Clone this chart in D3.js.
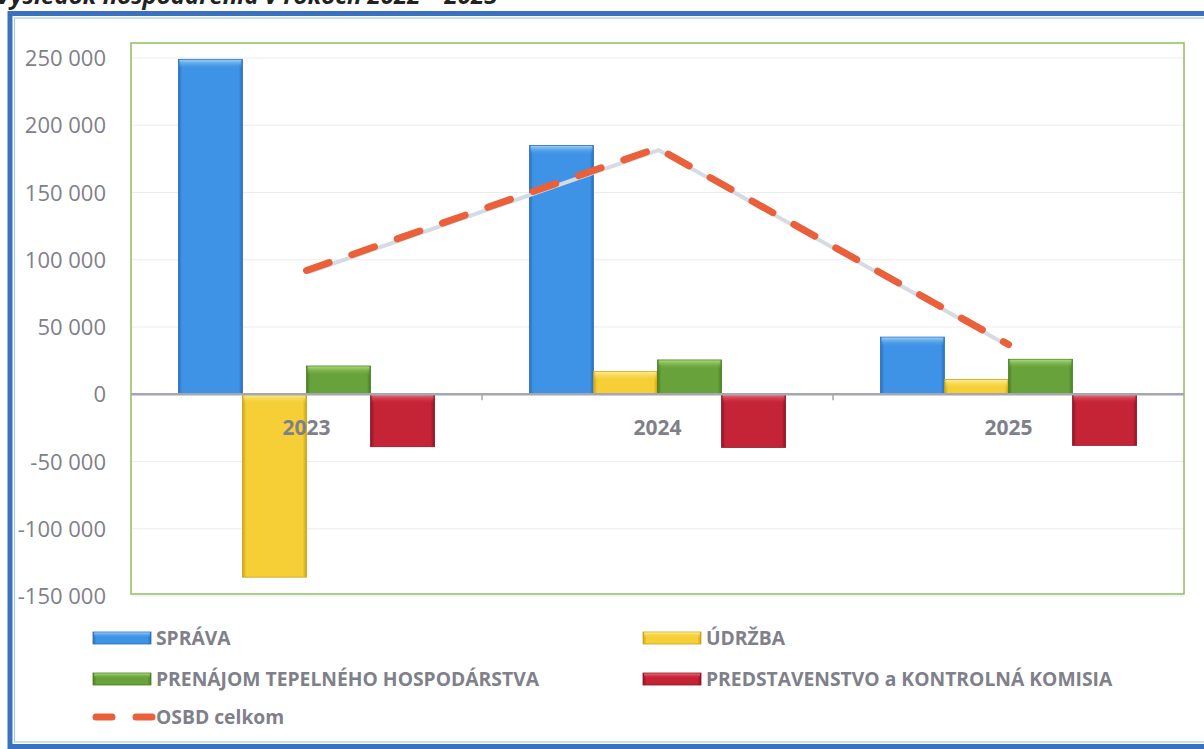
<!DOCTYPE html>
<html><head><meta charset="utf-8">
<script src="https://cdn.jsdelivr.net/npm/d3@7"></script>
<style>html,body{margin:0;padding:0;background:#fff;overflow:hidden}</style>
</head><body>
<svg id="c" width="1204" height="749"></svg>
<script>
const categories = ["2023", "2024", "2025"];
const seriesNames = ["SPRÁVA", "ÚDRŽBA", "PRENÁJOM TEPELNÉHO HOSPODÁRSTVA", "PREDSTAVENSTVO a KONTROLNÁ KOMISIA"];
const sprava = [249000, 185000, 42500];
const udrzba = [-136000, 17000, 11000];
const prenajom = [21000, 25500, 26000];
const predstavenstvo = [-39000, -39500, -38000];
const osbdCelkom = [92000, 183000, 37000];
const lineName = "OSBD celkom";
const yTicks = [-150000, -100000, -50000, 0, 50000, 100000, 150000, 200000, 250000];
const titleText = "Výsledok hospodárenia v rokoch 2022 – 2025";

const seriesValues = [sprava, udrzba, prenajom, predstavenstvo];
const colors = [
  {base:"#3f93e6", light:"#9fd2f7", dark:"#2a6fbf"},
  {base:"#f5cf35", light:"#fcee9a", dark:"#c9a21c"},
  {base:"#67a33a", light:"#b0dc7c", dark:"#4a7d25"},
  {base:"#c42436", light:"#f07480", dark:"#8e1424"}
];
const font = "'Open Sans', 'Noto Sans', sans-serif";
const txtCol = "#80808a";

const svg = d3.select("#c");
const defs = svg.append("defs");
colors.forEach((c,i)=>{
  const g = defs.append("linearGradient").attr("id","gh"+i).attr("x1",0).attr("x2",1).attr("y1",0).attr("y2",0);
  g.append("stop").attr("offset","0%").attr("stop-color",c.dark);
  g.append("stop").attr("offset","6%").attr("stop-color",c.base);
  g.append("stop").attr("offset","94%").attr("stop-color",c.base);
  g.append("stop").attr("offset","100%").attr("stop-color",c.dark);
  const v = defs.append("linearGradient").attr("id","gv"+i).attr("x1",0).attr("x2",0).attr("y1",0).attr("y2",1);
  v.append("stop").attr("offset","0%").attr("stop-color",c.light).attr("stop-opacity",0.95);
  v.append("stop").attr("offset","100%").attr("stop-color",c.base).attr("stop-opacity",0);
});

// title (cut at top, as in the reference)
svg.append("text").attr("x",-4).attr("y",4).attr("font-family",font).attr("font-weight","bold")
  .attr("font-style","italic").attr("font-size",24).attr("fill","#222").text(titleText);

// outer frame
svg.append("rect").attr("x",10).attr("y",13.5).attr("width",1210).attr("height",733)
  .attr("fill","none").attr("stroke","#3b72bd").attr("stroke-width",5);
svg.append("rect").attr("x",14.5).attr("y",18).attr("width",1210).attr("height",724)
  .attr("fill","none").attr("stroke","#a9c8ea").attr("stroke-width",1.2);

const plot = {left:131, right:1184, top:43, bottom:594};
const y = d3.scaleLinear().domain([-150000, 250000]).range([596, 58]);
const x0 = d3.scaleBand().domain(categories).range([plot.left, plot.right]).paddingInner(0).paddingOuter(0);
const x1 = d3.scaleBand().domain(seriesNames).range([0, x0.bandwidth()]).paddingOuter(0.74).paddingInner(0);

// gridlines
svg.append("g").selectAll("line").data(yTicks.filter(t=>t!==0)).join("line")
  .attr("x1",plot.left).attr("x2",plot.right).attr("y1",d=>y(d)).attr("y2",d=>y(d))
  .attr("stroke","#ececf0").attr("stroke-width",1.2);

// plot border
svg.append("rect").attr("x",plot.left).attr("y",plot.top).attr("width",plot.right-plot.left)
  .attr("height",plot.bottom-plot.top).attr("fill","none").attr("stroke","#8fbf5a").attr("stroke-width",1.5);

// y axis labels
const yAxis = d3.axisLeft(y).tickValues(yTicks).tickSize(0).tickPadding(0)
  .tickFormat(d=>d3.format(",")(d).replace(/,/g," ").replace("−","-"));
const ya = svg.append("g").attr("transform","translate(106,0)").call(yAxis);
ya.select(".domain").remove();
ya.selectAll("text").attr("font-family",font).attr("font-size",22).attr("fill",txtCol).attr("dy","0.35em");

// bars
const groups = svg.append("g").selectAll("g").data(categories).join("g")
  .attr("transform",d=>`translate(${x0(d)},0)`);
seriesNames.forEach((s,si)=>{
  groups.each(function(cat,ci){
    const v = seriesValues[si][ci];
    const g = d3.select(this);
    const bx = x1(s), bw = x1.bandwidth();
    const top = Math.min(y(v), y(0)), h = Math.abs(y(v)-y(0));
    g.append("rect").attr("x",bx).attr("y",top).attr("width",bw).attr("height",h)
      .attr("fill",`url(#gh${si})`).attr("stroke",colors[si].dark).attr("stroke-width",0.8);
    g.append("rect").attr("x",bx+1).attr("y",top+0.5).attr("width",bw-2).attr("height",Math.min(9,h))
      .attr("fill",`url(#gv${si})`);
  });
});

// zero axis
svg.append("line").attr("x1",plot.left).attr("x2",plot.right).attr("y1",y(0)).attr("y2",y(0))
  .attr("stroke","#a4a6b0").attr("stroke-width",2.5);
const xAxis = d3.axisBottom(x0).tickSize(0).tickPadding(0);
const xa = svg.append("g").attr("transform",`translate(0,${y(0)})`).call(xAxis);
xa.select(".domain").remove();
xa.selectAll("text").attr("font-family",font).attr("font-weight","bold").attr("font-size",21)
  .attr("fill",txtCol).attr("dy","0").attr("y",41);
// boundary ticks
svg.append("g").selectAll("line").data(categories.slice(1)).join("line")
  .attr("x1",d=>x0(d)).attr("x2",d=>x0(d)).attr("y1",y(0)).attr("y2",y(0)+6)
  .attr("stroke","#a4a6b0").attr("stroke-width",1.5);

// line
const line = d3.line().x((d,i)=>x0(categories[i])+x0.bandwidth()/2).y(d=>y(d));
svg.append("path").datum(osbdCelkom).attr("d",line).attr("fill","none")
  .attr("stroke","#d6dae2").attr("stroke-width",4).attr("transform","translate(1,2)");
svg.append("path").datum(osbdCelkom).attr("d",line).attr("fill","none")
  .attr("stroke","#e9603a").attr("stroke-width",7).attr("stroke-linecap","round")
  .attr("stroke-dasharray","24 24");

// legend
const legend = svg.append("g");
const legItems = [
  {name:seriesNames[0], i:0, x:93, y:638},
  {name:seriesNames[1], i:1, x:643, y:638},
  {name:seriesNames[2], i:2, x:93, y:679},
  {name:seriesNames[3], i:3, x:643, y:679}
];
legItems.forEach(it=>{
  legend.append("rect").attr("x",it.x).attr("y",it.y-6).attr("width",58).attr("height",12)
    .attr("fill",`url(#gh${it.i})`).attr("stroke",colors[it.i].dark).attr("stroke-width",0.8);
  legend.append("rect").attr("x",it.x+1).attr("y",it.y-5.5).attr("width",56).attr("height",5)
    .attr("fill",`url(#gv${it.i})`);
  legend.append("text").attr("x",it.x+63).attr("y",it.y).attr("dy","0.35em")
    .attr("font-family",font).attr("font-weight","bold").attr("font-size",19.3).attr("fill",txtCol).text(it.name);
});
legend.append("line").attr("x1",96).attr("x2",154).attr("y1",717).attr("y2",717)
  .attr("stroke","#e9603a").attr("stroke-width",7).attr("stroke-linecap","round").attr("stroke-dasharray","16 24");
legend.append("text").attr("x",156).attr("y",717).attr("dy","0.35em")
  .attr("font-family",font).attr("font-weight","bold").attr("font-size",19.3).attr("fill",txtCol).text(lineName);
</script>
</body></html>
